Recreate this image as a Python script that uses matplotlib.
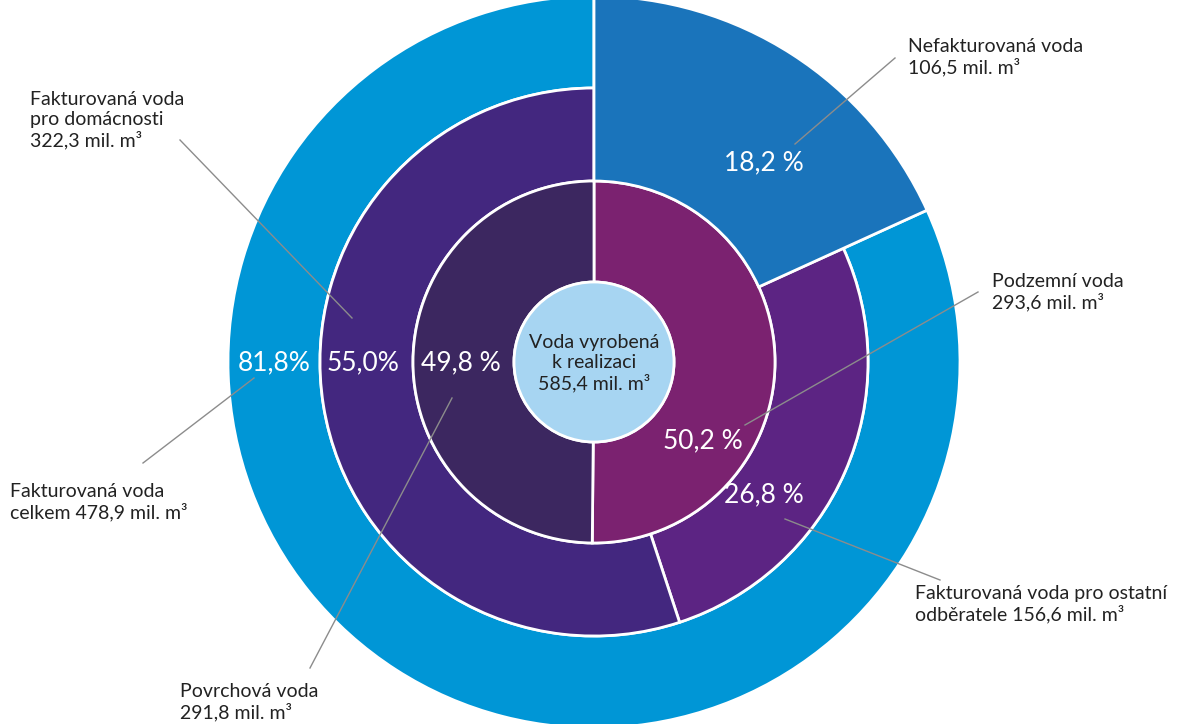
import matplotlib
matplotlib.use("Agg")
import matplotlib.pyplot as plt
from matplotlib.patches import Circle

plt.rcParams['font.family'] = ['Lato', 'DejaVu Sans']

# ---- data (mil. m3) ----
outer_labels = ["Nefakturovaná voda", "Fakturovaná voda celkem"]
outer_values = [106.5, 478.9]
middle_labels = ["Nefakturovaná voda", "Fakturovaná voda pro ostatní odběratele",
                 "Fakturovaná voda pro domácnosti"]
middle_values = [106.5, 156.6, 322.3]
inner_labels = ["Podzemní voda", "Povrchová voda"]
inner_values = [293.6, 291.8]
total_value = 585.4
pct_labels = ["18,2 %", "81,8%", "55,0%", "49,8 %", "50,2 %", "26,8 %"]

W, H = 1177, 724
fig = plt.figure(figsize=(W / 100, H / 100), dpi=100)
ax = fig.add_axes([0, 0, 1, 1])

def Y(y):
    return H - y

cx, cy = 594, Y(362)
R_out, R_mid, R_in, R_c = 366, 274, 181, 80

c_light = "#0096d6"
c_dark = "#1a74bb"
c_dom = "#43277f"
c_ost = "#5c2483"
c_pod = "#7b2270"
c_pov = "#3c2760"
c_center = "#a7d5f2"

edge = dict(edgecolor="white", linewidth=2)

# outer ring
w_out, _ = ax.pie(outer_values, radius=R_out, center=(cx, cy), startangle=90,
                  counterclock=False, colors=[c_dark, c_light],
                  wedgeprops=dict(width=R_out - R_mid, **edge), frame=True)
w_out[0].set_width(R_out - R_in)

# middle ring
w_mid, _ = ax.pie(middle_values, radius=R_mid, center=(cx, cy), startangle=90,
                  counterclock=False, colors=[c_dark, c_ost, c_dom],
                  wedgeprops=dict(width=R_mid - R_in, **edge), frame=True)
w_mid[0].set_visible(False)
w_out[0].set_zorder(3)

# inner ring
ax.pie(inner_values, radius=R_in, center=(cx, cy), startangle=90,
       counterclock=False, colors=[c_pod, c_pov],
       wedgeprops=dict(width=R_in - R_c, **edge), frame=True)

ax.add_patch(Circle((cx, cy), R_c, facecolor=c_center, edgecolor="white",
                    linewidth=2, zorder=4))

ax.set_xlim(0, W)
ax.set_ylim(0, H)
ax.set_aspect('equal')
ax.axis('off')

# leader lines
lc = "#8c8c8c"
lines = [((895, 58), (795, 144)),
         ((180, 140), (352, 318)),
         ((978, 292), (745, 425)),
         ((143, 463), (254, 378)),
         ((940, 580), (785, 519)),
         ((310, 668), (452, 398))]
for (x0, y0), (x1, y1) in lines:
    ax.plot([x0, x1], [Y(y0), Y(y1)], color=lc, lw=1, zorder=6)

# percent labels
pct_pos = [(764, 163), (274, 363), (363, 363), (461, 363), (703, 441), (764, 495)]
for t, (x, y) in zip(pct_labels, pct_pos):
    ax.text(x, Y(y), t, color="white", fontsize=19, ha="center", va="center", zorder=7)

def fmt(v):
    return f"{v:.1f}".replace(".", ",")

tc = "#222222"
fs = 14
ls = 1.2
ax.text(908, Y(57), f"{outer_labels[0]}\n{fmt(outer_values[0])} mil. m³",
        fontsize=fs, color=tc, ha="left", va="center", linespacing=ls)
ax.text(30, Y(120), f"Fakturovaná voda\npro domácnosti\n{fmt(middle_values[2])} mil. m³",
        fontsize=fs, color=tc, ha="left", va="center", linespacing=ls)
ax.text(992, Y(292), f"{inner_labels[0]}\n{fmt(inner_values[0])} mil. m³",
        fontsize=fs, color=tc, ha="left", va="center", linespacing=ls)
ax.text(10, Y(502), f"Fakturovaná voda\ncelkem {fmt(outer_values[1])} mil. m³",
        fontsize=fs, color=tc, ha="left", va="center", linespacing=ls)
ax.text(915, Y(604), f"Fakturovaná voda pro ostatní\nodběratele {fmt(middle_values[1])} mil. m³",
        fontsize=fs, color=tc, ha="left", va="center", linespacing=ls)
ax.text(180, Y(702), f"{inner_labels[1]}\n{fmt(inner_values[1])} mil. m³",
        fontsize=fs, color=tc, ha="left", va="center", linespacing=ls)
ax.text(cx, Y(363), f"Voda vyrobená\nk realizaci\n{fmt(total_value)} mil. m³",
        fontsize=fs, color=tc, ha="center", va="center", linespacing=ls, zorder=8)

fig.savefig("out.png", dpi=100, facecolor="white")
